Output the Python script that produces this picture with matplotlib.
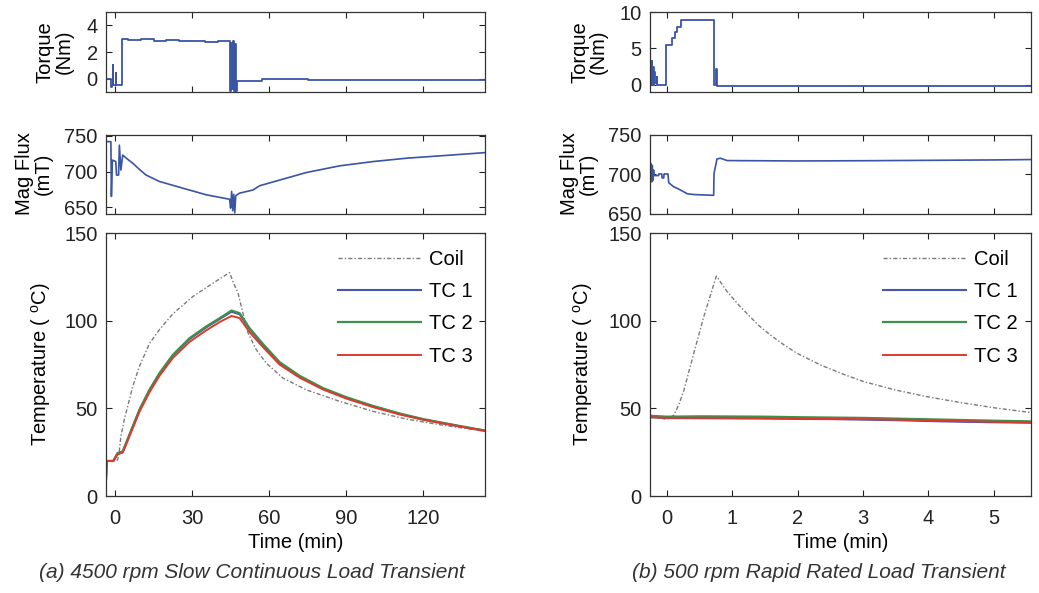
#!/usr/bin/env python3
# coding: utf-8

"""Motor thermal transients: torque, flux and temperatures."""

import matplotlib
matplotlib.use("Agg")
import matplotlib.pyplot as plt

plt.rcParams['font.family'] = ['Liberation Sans', 'DejaVu Sans']
plt.rcParams['mathtext.fontset'] = 'custom'
plt.rcParams['mathtext.rm'] = 'Liberation Sans'
plt.rcParams['font.size'] = 14.5

# ---- (a) 4500 rpm slow continuous load transient (time in min) ----
a_torque_t = [-3.5, -1.7, -1.6, -1.0, -0.9, -0.8, 0.1, 0.3, 0.4, 2.6, 2.8, 3.0, 5, 10,
              15, 20, 25, 30, 35, 40, 44.6, 44.8, 45.2, 45.6, 46.0, 46.4, 46.8, 47.2, 47.5,
              56.8, 57.4, 75, 100, 144]
a_torque = [0.0, 0.0, -0.6, -0.5, 1.0, -0.5, -0.5, 0.4, -0.5, -0.5, 3.0, 2.95, 2.9, 2.95,
            2.85, 2.9, 2.8, 2.85, 2.75, 2.8, 2.7, -0.9, 2.7, -0.8, 2.8, -0.9, 2.6, -0.9, -0.2,
            -0.2, -0.05, -0.1, -0.12, -0.12]

a_flux_t = [-3.5, -1.6, -1.4, -1.0, 0.3, 0.6, 1.4, 1.7, 2.3, 3.0, 5.0, 6.9, 9.5, 12.1,
            17.3, 26.4, 35.5, 44.6, 45.0, 45.4, 45.8, 46.2, 46.6, 47.0, 48.5, 53.7, 56.3,
            64.1, 74.5, 87.5, 100.5, 113.5, 126.5, 144.3]
a_flux = [742, 742, 665, 716, 714, 695, 695, 737, 702, 723, 717, 711.7, 703, 695, 686,
          676.6, 667.3, 661, 648.6, 672, 645, 668, 642, 666, 669.6, 674, 680, 688, 698.6,
          708, 714, 718.7, 722, 726.6]

a_temp_t = [-3.5, -3.2, -0.65, 1.0, 3.0, 4.3, 6.9, 9.5, 13.4, 17.3, 22.5, 29, 35.5, 40.7,
            45.3, 48.5, 52.4, 57.6, 64.1, 71.9, 81, 90.1, 100.5, 110.9, 120, 133, 144.3]
a_tc1 = [9.5, 20, 20, 24.3, 25.3, 30, 39.5, 49, 60.3, 69.8, 80.2, 89.6, 96.3, 101,
         105.2, 103.8, 95.3, 86.3, 76.0, 68.2, 61.2, 56.0, 51.1, 46.8, 43.7, 40.1, 37.2]
a_tc2 = [9.5, 20, 20, 24.5, 25.5, 30.2, 39.7, 49.2, 60.6, 70.1, 80.6, 90.1, 96.8, 101.5,
         105.9, 104.4, 95.8, 86.8, 76.4, 68.6, 61.6, 56.4, 51.4, 47.1, 43.9, 40.3, 37.3]
a_tc3 = [9.5, 20, 20, 23.8, 24.8, 29.3, 38.7, 48.0, 59.2, 68.6, 78.8, 88.0, 94.6, 99.3,
         102.8, 101.6, 93.5, 85.0, 75.0, 67.5, 60.8, 55.6, 50.7, 46.5, 43.5, 40.0, 37.1]
a_coil_t = [-3.2, 1.0, 1.7, 2.3, 3.6, 4.9, 6.9, 9.5, 13.4, 17.3, 22.5, 30.3, 38.1, 44.6,
            45.9, 47.9, 49.8, 51.8, 55.0, 58.9, 65.4, 74.5, 87.5, 100.5, 113.5, 126.5, 144.3]
a_coil = [20, 20.5, 26, 34, 43.5, 51, 62.5, 74, 87, 95, 104, 113.9, 121.5, 127.6, 122.4,
          115.8, 104.4, 93, 83.5, 75.8, 67.3, 60.6, 54, 48.3, 43.9, 40.7, 36.9]

# ---- (b) 500 rpm rapid rated load transient (time in min) ----
b_torque_t = [-0.245, -0.235, -0.225, -0.215, -0.205, -0.195, -0.18, -0.16, -0.15, -0.025,
              -0.015, 0.077, 0.08, 0.11, 0.115, 0.15, 0.155, 0.21, 0.215, 0.714, 0.72,
              0.735, 0.75, 0.76, 0.8, 5.6]
b_torque = [0.0, 3.2, 0.0, 2.5, 0.0, 1.8, 0.2, 1.0, -0.1, -0.1, 5.5, 5.5, 6.4, 6.4, 7.2,
            7.2, 8.0, 8.0, 8.95, 8.95, -0.1, 0.0, 2.2, -0.15, -0.2, -0.2]

b_flux_t = [-0.245, -0.235, -0.225, -0.215, -0.205, -0.2, -0.13, -0.125, -0.08, -0.075,
            -0.05, -0.045, 0.015, 0.026, 0.1, 0.2, 0.31, 0.41, 0.714, 0.72, 0.765, 0.816,
            0.92, 2.0, 3.0, 4.0, 5.0, 5.6]
b_flux = [713, 690, 711, 692, 705, 698, 698, 700, 700, 695, 695, 700, 700, 689, 684, 680,
          675, 674, 673, 701, 719, 720, 717, 716.5, 716.8, 717.3, 717.8, 718.3]

b_temp_t = [-0.25, 0.0, 0.5, 1.0, 1.5, 2.0, 2.5, 3.0, 3.5, 4.0, 4.5, 5.0, 5.6]
b_tc1 = [45.0, 44.5, 44.4, 44.3, 44.2, 44.0, 43.9, 43.6, 43.3, 42.8, 42.4, 42.1, 41.8]
b_tc2 = [45.8, 45.3, 45.5, 45.4, 45.3, 45.0, 44.8, 44.6, 44.2, 43.8, 43.4, 43.0, 42.6]
b_tc3 = [45.0, 44.6, 44.7, 44.6, 44.5, 44.3, 44.1, 43.9, 43.6, 43.2, 42.8, 42.4, 42.0]
b_coil_t = [-0.23, 0.0, 0.1, 0.18, 0.26, 0.41, 0.56, 0.755, 0.92, 1.1, 1.22, 1.4, 1.58,
            1.8, 1.99, 2.35, 2.7, 3.01, 3.5, 3.98, 4.5, 5.0, 5.58]
b_coil = [45.3, 43.8, 46, 52, 60.5, 81.5, 102, 125.6, 116.7, 109, 104.3, 97.5, 92, 86,
          81.5, 74.8, 69.5, 65.3, 60.5, 56.7, 53.3, 50.4, 47.6]

a_xticks = [0, 30, 60, 90, 120]
b_xticks = [0, 1, 2, 3, 4, 5]
captions = ['(a) 4500 rpm Slow Continuous Load Transient',
            '(b) 500 rpm Rapid Rated Load Transient']

BLUE = '#3a54a6'
C_TC1 = '#4858a8'
C_TC2 = '#3f8f4e'
C_TC3 = '#e0392b'
C_COIL = '#7a7a7a'


def style(ax, xlim, xticks, labels=True):
	ax.set_xlim(*xlim)
	ax.set_xticks(xticks)
	ax.tick_params(direction='in', top=True, right=True, length=4, width=0.8,
				   labelsize=14.5, colors='#222222', pad=6)
	ax.tick_params(axis='x', pad=9)
	if not labels:
		ax.set_xticklabels([])
	for s in ax.spines.values():
		s.set_linewidth(0.9)
		s.set_color('#333333')


fig = plt.figure(figsize=(10.39, 5.93), dpi=100)

cols = [
	dict(x0=106 / 1039, w=379 / 1039, xlim=(-3.5, 144), xt=a_xticks, fl=(641, 752),
		 tq=(-1, 5), tqt=[0, 2, 4], lab=(-0.085, -0.14, -0.14), cap_x=252 / 1039,
		 leg_y=0.937,
		 torque=(a_torque_t, a_torque), flux=(a_flux_t, a_flux),
		 tc=(a_temp_t, a_tc1, a_tc2, a_tc3), coil=(a_coil_t, a_coil)),
	dict(x0=650 / 1039, w=381 / 1039, xlim=(-0.26, 5.57), xt=b_xticks, fl=(650, 750),
		 tq=(-1, 10), tqt=[0, 5, 10], lab=(-0.11, -0.137, -0.145), cap_x=819 / 1039,
		 leg_y=0.937,
		 torque=(b_torque_t, b_torque), flux=(b_flux_t, b_flux),
		 tc=(b_temp_t, b_tc1, b_tc2, b_tc3), coil=(b_coil_t, b_coil)),
]

for i, c in enumerate(cols):
	ax1 = fig.add_axes([c['x0'], 1 - 92 / 593, c['w'], 80 / 593])
	ax2 = fig.add_axes([c['x0'], 1 - 213.5 / 593, c['w'], 79 / 593])
	ax3 = fig.add_axes([c['x0'], 1 - 496 / 593, c['w'], 262.7 / 593])

	ax1.plot(*c['torque'], color=BLUE, lw=1.3, drawstyle='steps-post')
	ax1.set_ylim(*c['tq'])
	ax1.set_yticks(c['tqt'])
	ax1.set_ylabel('Torque\n(Nm)', linespacing=1.0)
	ax1.yaxis.set_label_coords(c['lab'][0], 0.5)
	style(ax1, c['xlim'], c['xt'], labels=False)

	ax2.plot(*c['flux'], color=BLUE, lw=1.2)
	ax2.set_ylim(*c['fl'])
	ax2.set_yticks([650, 700, 750])
	ax2.set_ylabel('Mag Flux\n(mT)', linespacing=1.0)
	ax2.yaxis.set_label_coords(c['lab'][1], 0.5)
	style(ax2, c['xlim'], c['xt'], labels=False)

	t, tc1, tc2, tc3 = c['tc']
	ax3.plot(*c['coil'], color=C_COIL, lw=1.0, ls=(0, (3, 1.5, 1, 1.5)), label='Coil')
	ax3.plot(t, tc1, color=C_TC1, lw=1.5, label='TC 1')
	ax3.plot(t, tc2, color=C_TC2, lw=1.6, label='TC 2')
	ax3.plot(t, tc3, color=C_TC3, lw=1.4, label='TC 3')
	ax3.set_ylim(0, 150)
	ax3.set_yticks([0, 50, 100, 150])
	ax3.set_ylabel('Temperature ( $^{\\rm o}$C)')
	ax3.yaxis.set_label_coords(c['lab'][2], 0.5)
	ax3.set_xlabel('Time (min)', labelpad=4)
	style(ax3, c['xlim'], c['xt'])
	ax3.legend(loc='upper left', bbox_to_anchor=(0.612, c['leg_y']), frameon=False,
			   borderpad=0, borderaxespad=0, handlelength=4.1, handletextpad=0.4,
			   labelspacing=0.66, fontsize=14.5)

	fig.text(c['cap_x'], 1 - 573 / 593, captions[i], ha='center', va='center',
			 fontsize=15, style='italic', color='#333333')

fig.savefig('out.png', dpi=100)
